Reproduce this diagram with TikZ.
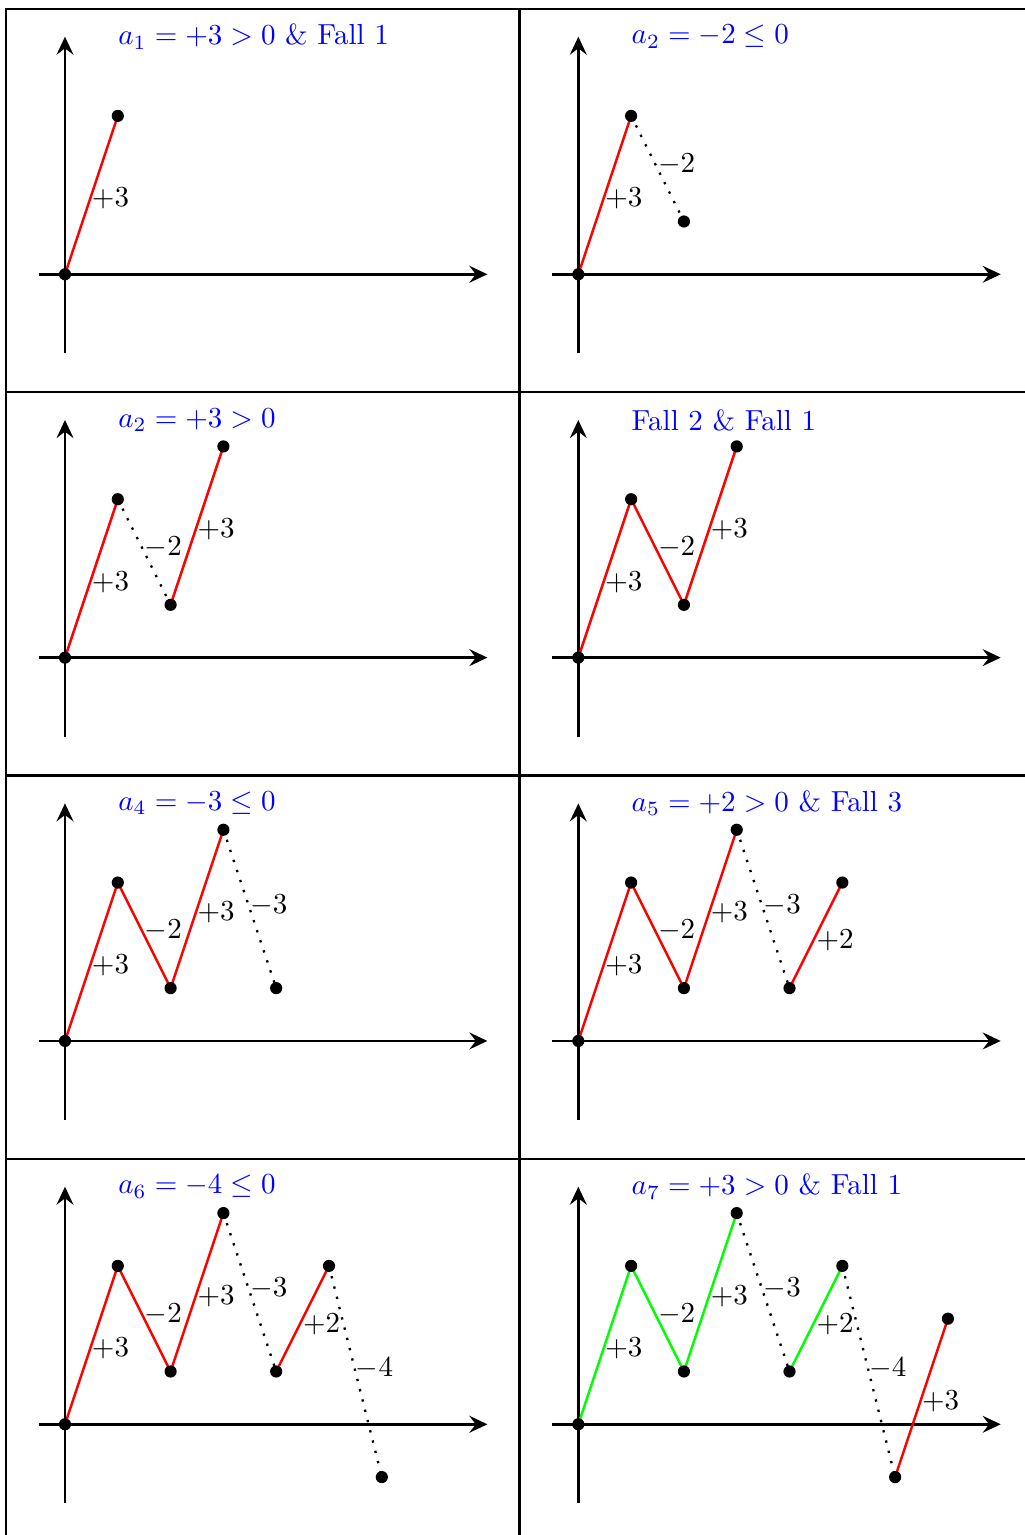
\documentclass[tikz,border=0pt]{standalone}
\usetikzlibrary{arrows.meta,calc}
\begin{document}
\begin{tikzpicture}[x=18.21pt,y=18.21pt,
  frame/.style={line width=0.8pt, line cap=rect},
  axisline/.style={line width=1pt,-{Stealth[length=6.2pt,width=5.8pt,inset=2.2pt]}},
  redseg/.style={red, line width=0.85pt},
  greenseg/.style={green, line width=0.85pt},
  dotseg/.style={black, line width=0.8pt, dash pattern=on 0.8pt off 2.85pt},
  dot/.style={circle, fill=black, inner sep=0pt, minimum size=4.2pt},
  lab/.style={anchor=west, inner sep=0pt, text=black},
  ttl/.style={anchor=west, inner sep=0pt, text=blue}]

\useasboundingbox (0,0) rectangle (19.394,-29.072);
\fill[white] (0,0) rectangle (19.394,-29.072);

% table rules
\draw[frame] (0.119,-0.170) -- (19.394,-0.170);
\draw[frame] (0.119,-7.430) -- (19.394,-7.430);
\draw[frame] (0.119,-14.690) -- (19.394,-14.690);
\draw[frame] (0.119,-21.950) -- (19.394,-21.950);
\draw[frame] (0.119,-0.170) -- (0.119,-29.2);
\draw[frame] (9.839,-0.170) -- (9.839,-29.2);

\newcommand{\cellaxes}[2]{%
  \coordinate (#1xl) at (-0.5,0); \coordinate (#1xr) at (8,0);
  \coordinate (#1yb) at (0,-1.5); \coordinate (#1yt) at (0,4.5);
  \draw[axisline] (#1xl) -- (#1xr);
  \draw[axisline] (#1yb) -- (#1yt);
  \node[ttl] (#1title) at (1,4.5) {#2};
  \foreach \i/\px/\py in {0/0/0,1/1/3,2/2/1,3/3/4,4/4/1,5/5/3,6/6/-1,7/7/2}
    {\coordinate (#1\i) at (\px,\py);}
}
\newcommand{\seg}[6]{%
  \draw[#4] (#1#2) -- (#1#3);
  \node[lab] (#1l#2) at ($(#1#2)!0.5!(#1#3)+(0,#6)$) {$#5$};
}
\newcommand{\celldots}[2]{%
  \foreach \i in {0,...,#2} {\node[dot] (#1d\i) at (#1\i) {};}
}

% cell A
\begin{scope}[shift={(1.231,-5.195)}]
  \cellaxes{A}{$a_1 = +3 > 0$ \& Fall 1}
  \seg{A}{0}{1}{redseg}{+3}{-0.07}
  \celldots{A}{1}
\end{scope}

% cell B
\begin{scope}[shift={(10.953,-5.195)}]
  \cellaxes{B}{$a_2 = -2 \leq 0$}
  \seg{B}{0}{1}{redseg}{+3}{-0.07}
  \seg{B}{1}{2}{dotseg}{-2}{0.09}
  \celldots{B}{2}
\end{scope}

% cell C
\begin{scope}[shift={(1.231,-12.455)}]
  \cellaxes{C}{$a_2 = +3 > 0$}
  \seg{C}{0}{1}{redseg}{+3}{-0.07}
  \seg{C}{1}{2}{dotseg}{-2}{0.09}
  \seg{C}{2}{3}{redseg}{+3}{-0.07}
  \celldots{C}{3}
\end{scope}

% cell D
\begin{scope}[shift={(10.953,-12.455)}]
  \cellaxes{D}{Fall 2 \& Fall 1}
  \seg{D}{0}{1}{redseg}{+3}{-0.07}
  \seg{D}{1}{2}{redseg}{-2}{0.09}
  \seg{D}{2}{3}{redseg}{+3}{-0.07}
  \celldots{D}{3}
\end{scope}

% cell E
\begin{scope}[shift={(1.231,-19.715)}]
  \cellaxes{E}{$a_4 = -3 \leq 0$}
  \seg{E}{0}{1}{redseg}{+3}{-0.07}
  \seg{E}{1}{2}{redseg}{-2}{0.09}
  \seg{E}{2}{3}{redseg}{+3}{-0.07}
  \seg{E}{3}{4}{dotseg}{-3}{0.07}
  \celldots{E}{4}
\end{scope}

% cell F
\begin{scope}[shift={(10.953,-19.715)}]
  \cellaxes{F}{$a_5 = +2 > 0$ \& Fall 3}
  \seg{F}{0}{1}{redseg}{+3}{-0.07}
  \seg{F}{1}{2}{redseg}{-2}{0.09}
  \seg{F}{2}{3}{redseg}{+3}{-0.07}
  \seg{F}{3}{4}{dotseg}{-3}{0.07}
  \seg{F}{4}{5}{redseg}{+2}{-0.10}
  \celldots{F}{5}
\end{scope}

% cell G
\begin{scope}[shift={(1.231,-26.975)}]
  \cellaxes{G}{$a_6 = -4 \leq 0$}
  \seg{G}{0}{1}{redseg}{+3}{-0.07}
  \seg{G}{1}{2}{redseg}{-2}{0.09}
  \seg{G}{2}{3}{redseg}{+3}{-0.07}
  \seg{G}{3}{4}{dotseg}{-3}{0.07}
  \seg{G}{4}{5}{redseg}{+2}{-0.10}
  \seg{G}{5}{6}{dotseg}{-4}{0.05}
  \celldots{G}{6}
\end{scope}

% cell H
\begin{scope}[shift={(10.953,-26.975)}]
  \cellaxes{H}{$a_7 = +3 > 0$ \& Fall 1}
  \seg{H}{0}{1}{greenseg}{+3}{-0.07}
  \seg{H}{1}{2}{greenseg}{-2}{0.09}
  \seg{H}{2}{3}{greenseg}{+3}{-0.07}
  \seg{H}{3}{4}{dotseg}{-3}{0.07}
  \seg{H}{4}{5}{greenseg}{+2}{-0.10}
  \seg{H}{5}{6}{dotseg}{-4}{0.05}
  \seg{H}{6}{7}{redseg}{+3}{-0.07}
  \celldots{H}{7}
\end{scope}

\end{tikzpicture}
\end{document}
